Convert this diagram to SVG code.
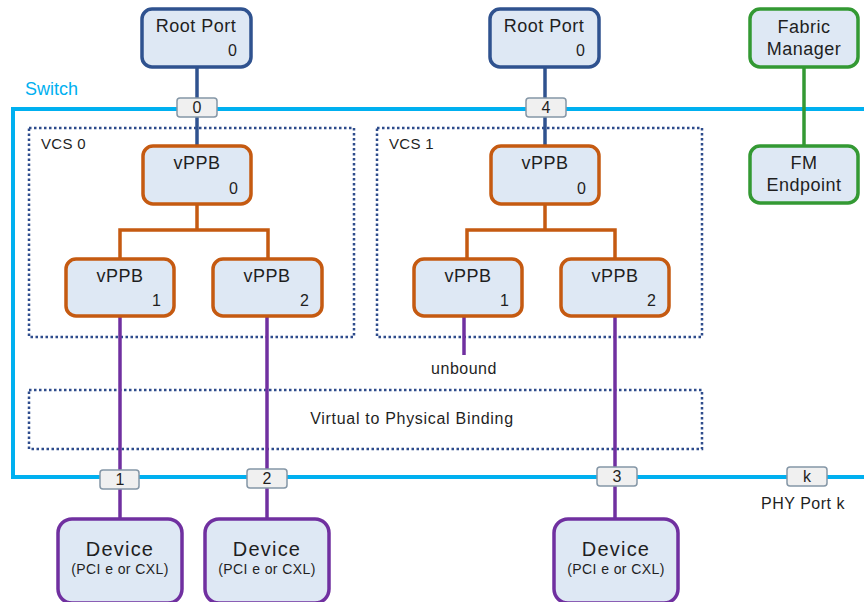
<svg xmlns="http://www.w3.org/2000/svg" width="864" height="602" viewBox="0 0 864 602">
  <style>
    text { font-family: "Liberation Sans", Arial, sans-serif; fill: #1f1f1f; }
    .box { fill: #dee8f4; stroke-width: 3.5; }
    .root { stroke: #2f528f; }
    .vppb { stroke: #c55a11; }
    .dev { stroke: #7030a0; }
    .fm { stroke: #339933; }
    .port { fill: #f0f0f0; stroke: #8496a6; stroke-width: 1.5; }
    .plabel { font-size: 16px; text-anchor: middle; }
    .title { font-size: 18px; text-anchor: middle; letter-spacing: 0.5px; }
    .num { font-size: 16px; text-anchor: end; }
    .devname { font-size: 20px; text-anchor: middle; letter-spacing: 1.2px; }
    .devsub { font-size: 14px; text-anchor: middle; letter-spacing: 0.4px; }
    .lbl { font-size: 16px; text-anchor: middle; letter-spacing: 0.5px; }
    .dot { fill: none; stroke: #2e4c8c; stroke-width: 2.5; stroke-dasharray: 2.5 2.5; }
    .wroot { stroke: #2f528f; stroke-width: 3.5; fill: none; }
    .wvppb { stroke: #c55a11; stroke-width: 3.5; fill: none; }
    .wdev { stroke: #7030a0; stroke-width: 3.5; fill: none; }
    .wfm { stroke: #339933; stroke-width: 3.5; fill: none; }
  </style>

  <!-- switch boundary -->
  <g id="switch">
    <path d="M870 109 H13 V477 H870" fill="none" stroke="#00b0f0" stroke-width="4"/>
    <text x="25" y="95" font-size="18" style="fill:#00b0f0">Switch</text>
  </g>

  <!-- virtual channel switches and binding region -->
  <g id="vcs0">
    <rect class="dot" x="29" y="128" width="325" height="209"/>
    <text x="41" y="149" font-size="15" letter-spacing="0.3">VCS 0</text>
  </g>
  <g id="vcs1">
    <rect class="dot" x="377" y="128" width="325" height="209"/>
    <text x="389" y="149" font-size="15" letter-spacing="0.3">VCS 1</text>
  </g>
  <g id="binding">
    <rect class="dot" x="29" y="390" width="673" height="59"/>
    <text x="412" y="424" font-size="16" text-anchor="middle" letter-spacing="0.7">Virtual to Physical Binding</text>
  </g>

  <!-- connectors -->
  <g id="connectors">
    <path class="wroot" d="M197 68 V146"/>
    <path class="wroot" d="M545 68 V146"/>
    <path class="wvppb" d="M197 204 V230 M120 258 V230 H268 V258"/>
    <path class="wvppb" d="M545 204 V230 M467 258 V230 H615 V258"/>
    <path class="wdev" d="M120 316 V519"/>
    <path class="wdev" d="M267 316 V519"/>
    <path class="wdev" d="M615 316 V519"/>
    <path class="wdev" d="M464 316 V355"/>
    <path class="wfm" d="M804 68 V146"/>
  </g>

  <!-- ports on the switch boundary -->
  <g id="port0"><rect class="port" x="177" y="98" width="40" height="19" rx="3"/><text class="plabel" x="197" y="113">0</text></g>
  <g id="port4"><rect class="port" x="526" y="98" width="40" height="19" rx="3"/><text class="plabel" x="546" y="113">4</text></g>
  <g id="port1"><rect class="port" x="100" y="470" width="39" height="19" rx="3"/><text class="plabel" x="120" y="485">1</text></g>
  <g id="port2"><rect class="port" x="247" y="469" width="40" height="19" rx="3"/><text class="plabel" x="267" y="484">2</text></g>
  <g id="port3"><rect class="port" x="597" y="467" width="40" height="19" rx="3"/><text class="plabel" x="617" y="482">3</text></g>
  <g id="portk"><rect class="port" x="787" y="467" width="40" height="19" rx="3"/><text class="plabel" x="807" y="482">k</text></g>
  <text class="lbl" x="803" y="509">PHY Port k</text>
  <text class="lbl" x="464" y="374">unbound</text>

  <!-- root ports -->
  <g id="rootport0">
    <rect class="box root" x="142" y="9" width="109" height="58" rx="10"/>
    <text class="title" x="196" y="32">Root Port</text>
    <text class="num" x="237" y="56">0</text>
  </g>
  <g id="rootport1">
    <rect class="box root" x="490" y="9" width="109" height="58" rx="10"/>
    <text class="title" x="544" y="32">Root Port</text>
    <text class="num" x="585" y="56">0</text>
  </g>

  <!-- fabric manager -->
  <g id="fabricmanager">
    <rect class="box fm" x="750" y="9" width="108" height="58" rx="10"/>
    <text class="title" x="804" y="33">Fabric</text>
    <text class="title" x="804" y="55">Manager</text>
  </g>
  <g id="fmendpoint">
    <rect class="box fm" x="750" y="146" width="108" height="57" rx="10"/>
    <text class="title" x="804" y="169">FM</text>
    <text class="title" x="804" y="191">Endpoint</text>
  </g>

  <!-- VCS 0 vPPBs -->
  <g id="vcs0-vppb0">
    <rect class="box vppb" x="143" y="146" width="108" height="58" rx="10"/>
    <text class="title" x="197" y="169">vPPB</text>
    <text class="num" x="238" y="194">0</text>
  </g>
  <g id="vcs0-vppb1">
    <rect class="box vppb" x="66" y="259" width="108" height="57" rx="10"/>
    <text class="title" x="120" y="282">vPPB</text>
    <text class="num" x="161" y="306">1</text>
  </g>
  <g id="vcs0-vppb2">
    <rect class="box vppb" x="213" y="259" width="109" height="57" rx="10"/>
    <text class="title" x="267" y="282">vPPB</text>
    <text class="num" x="309" y="306">2</text>
  </g>

  <!-- VCS 1 vPPBs -->
  <g id="vcs1-vppb0">
    <rect class="box vppb" x="491" y="146" width="108" height="58" rx="10"/>
    <text class="title" x="545" y="169">vPPB</text>
    <text class="num" x="586" y="194">0</text>
  </g>
  <g id="vcs1-vppb1">
    <rect class="box vppb" x="414" y="259" width="108" height="57" rx="10"/>
    <text class="title" x="468" y="282">vPPB</text>
    <text class="num" x="509" y="306">1</text>
  </g>
  <g id="vcs1-vppb2">
    <rect class="box vppb" x="561" y="259" width="108" height="57" rx="10"/>
    <text class="title" x="615" y="282">vPPB</text>
    <text class="num" x="656" y="306">2</text>
  </g>

  <!-- devices -->
  <g id="device1">
    <rect class="box dev" x="58" y="519" width="124" height="84" rx="14"/>
    <text class="devname" x="120" y="556">Device</text>
    <text class="devsub" x="120" y="574">(PCI e or CXL)</text>
  </g>
  <g id="device2">
    <rect class="box dev" x="205" y="519" width="124" height="84" rx="14"/>
    <text class="devname" x="267" y="556">Device</text>
    <text class="devsub" x="267" y="574">(PCI e or CXL)</text>
  </g>
  <g id="device3">
    <rect class="box dev" x="554" y="519" width="124" height="84" rx="14"/>
    <text class="devname" x="616" y="556">Device</text>
    <text class="devsub" x="616" y="574">(PCI e or CXL)</text>
  </g>
</svg>
